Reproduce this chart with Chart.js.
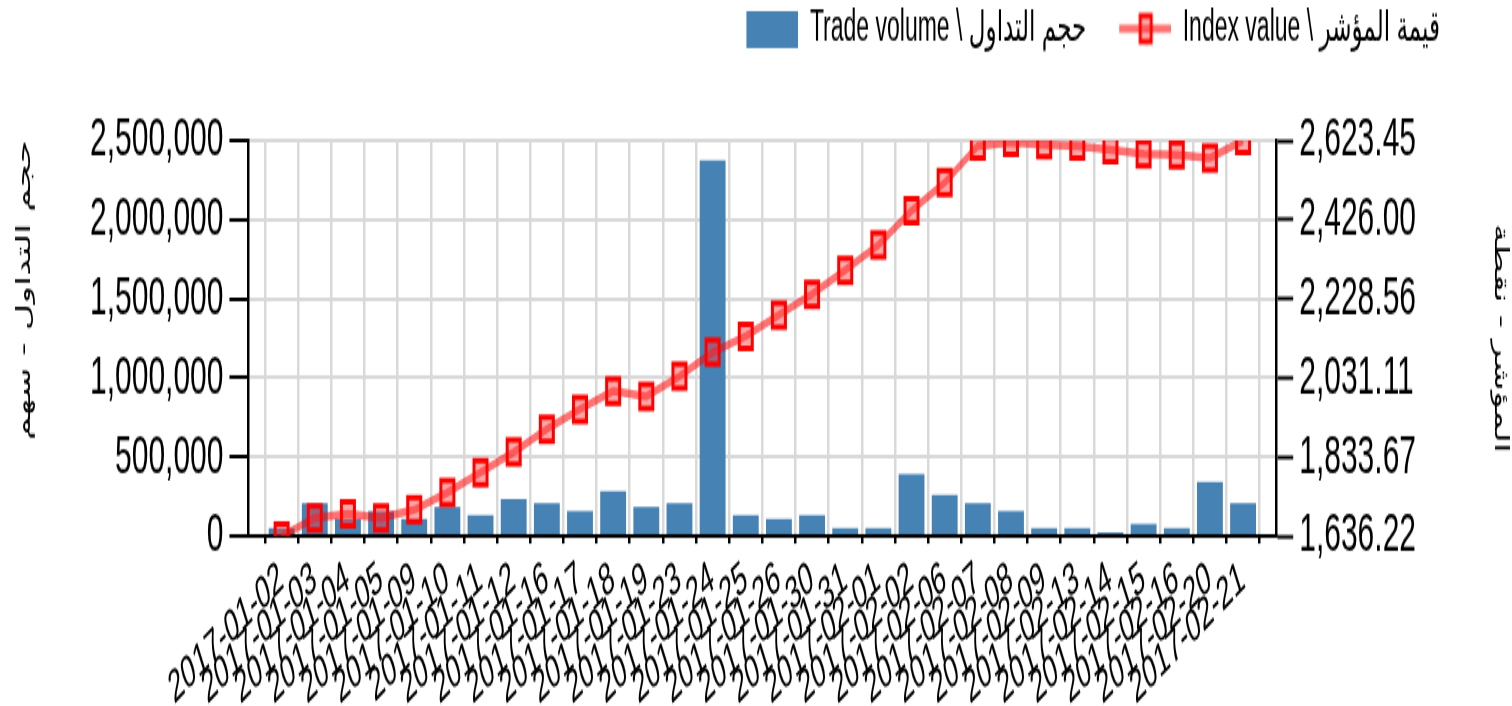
<!DOCTYPE html>
<html>
<head>
<meta charset="utf-8">
<script src="https://cdn.jsdelivr.net/npm/chart.js@4/dist/chart.umd.min.js"></script>
<style>
  html, body { margin: 0; padding: 0; background: #fff; }
  #frame { width: 1512px; height: 706px; overflow: hidden; position: relative; }
  /* the reference is stretched vertically, so draw flat and stretch */
  #wrap { position: absolute; left: 0; top: 0; width: 1512px; height: 382px; transform: scaleY(1.8482); transform-origin: 0 0; }
</style>
</head>
<body>
<div id="frame"><div id="wrap"><canvas id="chart" width="1512" height="382"></canvas></div></div>
<script>
// trading days on the x axis
const dates = [
  "2017-01-02", "2017-01-03", "2017-01-04", "2017-01-05", "2017-01-09",
  "2017-01-10", "2017-01-11", "2017-01-12", "2017-01-16", "2017-01-17",
  "2017-01-18", "2017-01-19", "2017-01-23", "2017-01-24", "2017-01-25",
  "2017-01-26", "2017-01-30", "2017-01-31", "2017-02-01", "2017-02-02",
  "2017-02-06", "2017-02-07", "2017-02-08", "2017-02-09", "2017-02-13",
  "2017-02-14", "2017-02-15", "2017-02-16", "2017-02-20", "2017-02-21",
];

// trade volume (shares)
const volumes = [
  51000, 209000, 108000, 158000, 108000, 184000, 133000, 234000, 209000, 158000,
  285000, 184000, 209000, 2375000, 133000, 108000, 133000, 51000, 51000, 392000,
  260000, 209000, 158000, 51000, 51000, 25000, 76000, 51000, 342000, 209000,
];

// index value (points)
const indexValues = [
  1636.22, 1682, 1692, 1682, 1702, 1745, 1795, 1846, 1903, 1953,
  1998, 1985, 2035, 2095, 2135, 2188, 2240, 2300, 2363, 2448,
  2518, 2610, 2619, 2613, 2610, 2600, 2590, 2588, 2580, 2623.45,
];

const volumeTicks = [0, 500000, 1000000, 1500000, 2000000, 2500000];
const indexMin = 1636.22;
const indexMax = 2623.45;

const volumeLabel = "Trade volume \\ حجم التداول";
const indexLabel = "Index value \\ قيمة المؤشر";
const leftTitle = "حجم التداول - سهم";
const rightTitle = "المؤشر - نقطة";

const BAR_COLOR = "#4682b4";
const LINE_COLOR = "rgba(255, 0, 0, 0.55)";
const GRID = "#d9d9d9";
const FONT = "'Liberation Sans', Arial, 'DejaVu Sans', sans-serif";

// legend icons (transparent strip on the left gives the gap between items)
function icon(draw) {
  const c = document.createElement("canvas");
  c.width = 81;
  c.height = 20;
  draw(c.getContext("2d"));
  return c;
}
const barIcon = icon((ctx) => {
  ctx.fillStyle = BAR_COLOR;
  ctx.fillRect(29, 0, 52, 20);
});
const lineIcon = icon((ctx) => {
  ctx.strokeStyle = LINE_COLOR;
  ctx.lineWidth = 4.5;
  ctx.beginPath();
  ctx.moveTo(29, 10);
  ctx.lineTo(81, 10);
  ctx.stroke();
  ctx.fillStyle = "rgba(255, 60, 60, 0.45)";
  ctx.strokeStyle = "#ff0000";
  ctx.lineWidth = 3;
  ctx.fillRect(50, 3, 11, 14);
  ctx.strokeRect(50, 3, 11, 14);
});

// move legend in from the right edge
const legendShift = {
  id: "legendShift",
  afterLayout(chart) {
    chart.legend.right -= 68;
  },
};

const ctx = document.getElementById("chart").getContext("2d");
const chart = new Chart(ctx, {
  type: "bar",
  data: {
    datasets: [
      {
        type: "line",
        label: indexLabel,
        data: indexValues.map((v, i) => ({ x: i, y: v })),
        yAxisID: "y1",
        order: 0,
        borderColor: LINE_COLOR,
        borderWidth: 4.5,
        tension: 0,
        pointStyle: "rect",
        pointRadius: 9.2,
        pointBorderWidth: 3,
        pointBorderColor: "#ff0000",
        pointBackgroundColor: "rgba(255, 60, 60, 0.45)",
      },
      {
        type: "bar",
        label: volumeLabel,
        data: volumes.map((v, i) => ({ x: i, y: v })),
        yAxisID: "y",
        order: 1,
        backgroundColor: BAR_COLOR,
        barPercentage: 0.78,
        categoryPercentage: 1,
      },
    ],
  },
  options: {
    responsive: false,
    animation: false,
    devicePixelRatio: 1,
    layout: {
      padding: { left: 0, right: 0, top: 0, bottom: -10 },
    },
    plugins: {
      tooltip: { enabled: false },
      title: {
        display: true,
        text: "",
        weight: 500,
        padding: { top: 0, bottom: 15 },
        font: { size: 20 },
      },
      legend: {
        position: "top",
        align: "end",
        labels: {
          usePointStyle: true,
          pointStyleWidth: 81,
          padding: 4,
          color: "#000",
          font: { family: FONT, size: 23 },
          generateLabels: () => [
            { text: volumeLabel, pointStyle: barIcon, fontColor: "#000", lineWidth: 0, hidden: false, datasetIndex: 1 },
            { text: indexLabel, pointStyle: lineIcon, fontColor: "#000", lineWidth: 0, hidden: false, datasetIndex: 0 },
          ],
        },
      },
    },
    scales: {
      x: {
        type: "linear",
        min: -1,
        max: dates.length,
        offset: false,
        grid: { color: GRID, lineWidth: 2.5, tickColor: "#000", tickLength: 4, tickWidth: 2.5 },
        border: { color: "#000", width: 2 },
        ticks: {
          stepSize: 1,
          maxTicksLimit: 100,
          autoSkip: false,
          minRotation: 30,
          maxRotation: 30,
          padding: 4,
          color: "#000",
          font: { family: FONT, size: 25 },
          callback: (v) => dates[v] || "",
        },
      },
      y: {
        position: "left",
        min: volumeTicks[0],
        max: volumeTicks[volumeTicks.length - 1],
        grid: { color: GRID, lineWidth: 2, tickColor: "#000", tickLength: 19, tickWidth: 2 },
        border: { color: "#000", width: 2.5 },
        ticks: {
          stepSize: volumeTicks[1] - volumeTicks[0],
          autoSkip: false,
          padding: 6,
          color: "#000",
          font: { family: FONT, size: 30 },
          callback: (v) => v.toLocaleString("en-US"),
        },
        title: {
          display: true,
          text: leftTitle,
          align: "end",
          color: "#000",
          font: { family: "'DejaVu Sans', sans-serif", size: 20 },
          padding: { top: 13, bottom: 47 },
        },
      },
      y1: {
        position: "right",
        min: indexMin,
        max: indexMax,
        grid: { drawOnChartArea: false, tickColor: "#000", tickLength: 17, tickWidth: 2 },
        border: { color: "#000", width: 2.5 },
        ticks: {
          count: 6,
          autoSkip: false,
          padding: 6,
          color: "#000",
          font: { family: FONT, size: 30 },
          callback: (v) =>
            v.toLocaleString("en-US", { minimumFractionDigits: 2, maximumFractionDigits: 2 }),
        },
        title: {
          display: true,
          text: rightTitle,
          color: "#000",
          font: { family: "'DejaVu Sans', sans-serif", size: 20 },
          padding: { top: 0, bottom: 66 },
        },
      },
    },
  },
  plugins: [legendShift],
});
</script>
</body>
</html>
